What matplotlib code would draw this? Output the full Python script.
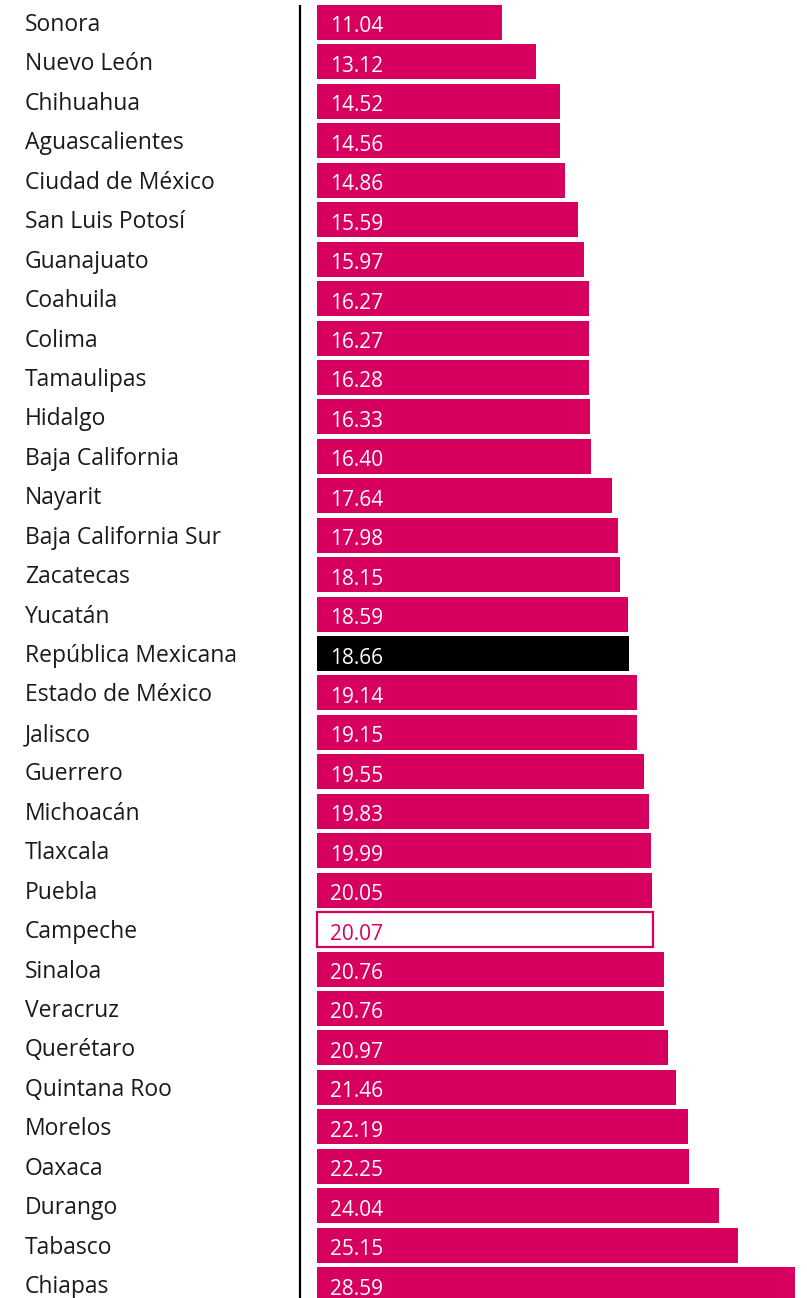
import matplotlib.pyplot as plt

plt.rcParams["font.family"] = ["Open Sans", "DejaVu Sans"]

estados = [
    "Sonora", "Nuevo León", "Chihuahua", "Aguascalientes", "Ciudad de México",
    "San Luis Potosí", "Guanajuato", "Coahuila", "Colima", "Tamaulipas",
    "Hidalgo", "Baja California", "Nayarit", "Baja California Sur", "Zacatecas",
    "Yucatán", "República Mexicana", "Estado de México", "Jalisco", "Guerrero",
    "Michoacán", "Tlaxcala", "Puebla", "Campeche", "Sinaloa",
    "Veracruz", "Querétaro", "Quintana Roo", "Morelos", "Oaxaca",
    "Durango", "Tabasco", "Chiapas",
]

valores = [
    11.04, 13.12, 14.52, 14.56, 14.86,
    15.59, 15.97, 16.27, 16.27, 16.28,
    16.33, 16.40, 17.64, 17.98, 18.15,
    18.59, 18.66, 19.14, 19.15, 19.55,
    19.83, 19.99, 20.05, 20.07, 20.76,
    20.76, 20.97, 21.46, 22.19, 22.25,
    24.04, 25.15, 28.59,
]

nacional = "República Mexicana"
destacado = "Campeche"

rosa = "#d8005f"

# pixel geometry of the layout
px_unit = 16.72      # pixels per unit on x
x0 = 317             # pixel where bars start
pitch = 39.44        # pixels between rows
top = 22.5           # pixel centre of first row

fig = plt.figure(figsize=(8.07, 12.98), dpi=100)
ax = fig.add_axes([0, 0, 1, 1])

ax.set_xlim(-x0 / px_unit, (807 - x0) / px_unit)
ax.set_ylim((1298 - top) / pitch, -top / pitch)
ax.axis("off")

for i, (estado, valor) in enumerate(zip(estados, valores)):

    if estado == nacional:
        color, edge, txt = "black", "black", "white"
    elif estado == destacado:
        color, edge, txt = "white", rosa, rosa
    else:
        color, edge, txt = rosa, rosa, "white"

    ax.barh(
        i,
        valor,
        height=0.887,
        color=color,
        edgecolor=edge,
        linewidth=1.6 if estado == destacado else 0
    )

    ax.text(
        13 / px_unit,
        i + 4.5 / pitch,
        f"{valor:.2f}",
        color=txt,
        fontsize=15,
        ha="left",
        va="center"
    )

    ax.text(
        (25 - x0) / px_unit,
        i + 2.5 / pitch,
        estado,
        color="#1a1a1a",
        fontsize=16.5,
        ha="left",
        va="center"
    )

# vertical baseline
ax.plot(
    [(300 - x0) / px_unit] * 2,
    [-0.45, len(estados) + 1],
    color="black",
    linewidth=1.6,
    solid_capstyle="butt"
)

fig.savefig("out.png", dpi=100)
plt.close(fig)
